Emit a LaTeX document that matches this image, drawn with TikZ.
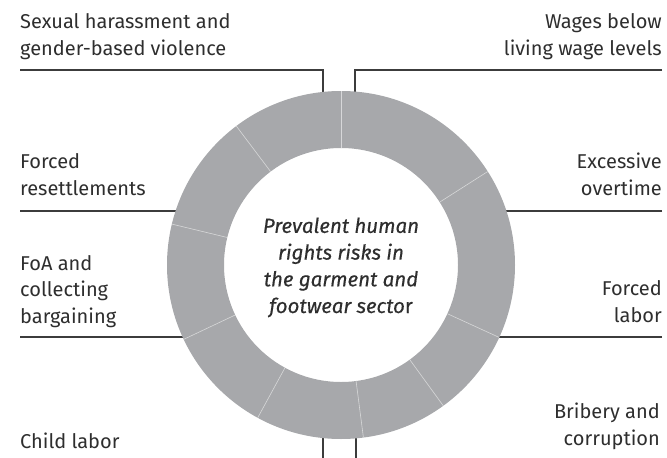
\documentclass[tikz,border=0pt]{standalone}
\usepackage{fontspec}
\usetikzlibrary{calc}
\setmainfont{Fira Sans}
\newfontfamily\centerfont{Fira Sans}[FakeBold=0.4]
\definecolor{ringcol}{HTML}{A7A8AB}
\definecolor{ink}{HTML}{2E2E2E}
\definecolor{leadcol}{HTML}{3C3C3C}
\begin{document}
\begin{tikzpicture}[x=1pt,y=-1pt,
  lbl/.style={inner sep=0pt, text=ink, font=\fontsize{20}{26.5}\selectfont},
  lblL/.style={lbl, align=left, anchor=base west},
  lblR/.style={lbl, align=right, anchor=base east},
  leader/.style={draw=leadcol, line width=1.1pt},
  divider/.style={draw=white, line width=0.6pt, opacity=0.55}]
\useasboundingbox (0,0) rectangle (667,458);

% centre
\coordinate (c) at (341,265);

% labels (anchored at the baseline of their last line)
\node[lblL] (sex) at (20,55) {Sexual harassment and\\gender-based violence};
\node[lblR] (wag) at (662,55) {Wages below\\living wage levels};
\node[lblL] (res) at (20,195) {Forced\\resettlements};
\node[lblR] (exc) at (662,195) {Excessive\\overtime};
\node[lblL] (foa) at (20,323) {FoA and\\collecting\\bargaining};
\node[lblR] (frc) at (662,322) {Forced\\labor};
\node[lblL] (chi) at (20,448) {Child labor};
\node[lblR] (bri) at (660,445) {Bribery and\\corruption};

% leader coordinates
\coordinate (sexA) at (20,70);
\coordinate (sexB) at (323,70);
\coordinate (sexC) at (323,96);
\coordinate (wagA) at (662,70);
\coordinate (wagB) at (355,70);
\coordinate (wagC) at (355,96);
\coordinate (resA) at (20,211);
\coordinate (resB) at (180,211);
\coordinate (excA) at (662,211);
\coordinate (excB) at (502,211);
\coordinate (foaA) at (20,337);
\coordinate (foaB) at (187,337);
\coordinate (frcA) at (662,337);
\coordinate (frcB) at (495,337);
\coordinate (chiA) at (323,458);
\coordinate (chiB) at (323,434);
\coordinate (briA) at (356,458);
\coordinate (briB) at (356,434);

\draw[leader] (sexA) -- (sexB) -- (sexC);
\draw[leader] (wagA) -- (wagB) -- (wagC);
\draw[leader] (resA) -- (resB);
\draw[leader] (excA) -- (excB);
\draw[leader] (foaA) -- (foaB);
\draw[leader] (frcA) -- (frcB);
\draw[leader] (chiA) -- (chiB);
\draw[leader] (briA) -- (briB);

% ring
\fill[ringcol, even odd rule] (c) circle[radius=174] (c) circle[radius=117];
\foreach \a in {90,32.5,-24.6,-54,-82.6,-118.6,-154.7,166.4,127}
  \draw[divider] ($(c)+(-\a:117)$) -- ($(c)+(-\a:174)$);

% centre text
\node[inner sep=0pt, text=ink, align=center, anchor=base,
      font=\centerfont\fontsize{20.5}{26.7}\selectfont] (ctr) at (341,313)
  {\itshape Prevalent human\\\itshape rights risks in\\\itshape the garment and\\{\itshape footwear secto}r};
\end{tikzpicture}
\end{document}
